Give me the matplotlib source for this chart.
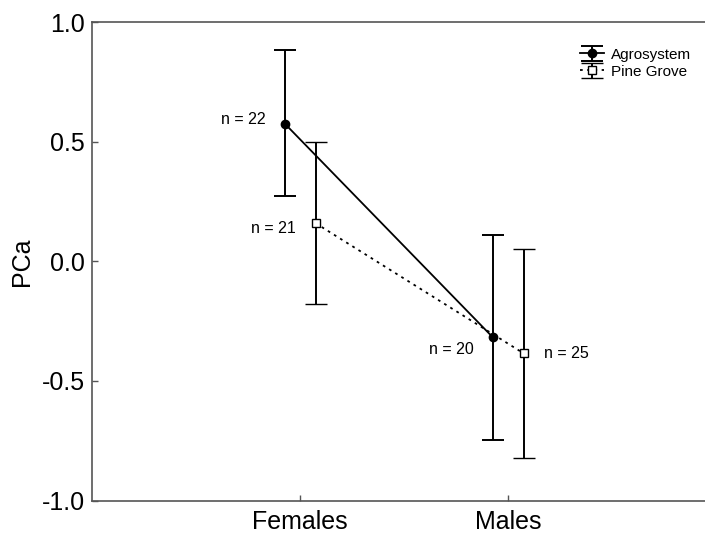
import matplotlib
matplotlib.use('Agg')
import matplotlib.pyplot as plt

# data
groups = ['Females', 'Males']
agro_mean = [0.575, -0.318]
agro_low = [0.272, -0.745]
agro_high = [0.883, 0.109]
agro_n = ['n = 22', 'n = 20']
pine_mean = [0.159, -0.385]
pine_low = [-0.180, -0.824]
pine_high = [0.498, 0.050]
pine_n = ['n = 21', 'n = 25']

plt.rcParams['font.family'] = ['Liberation Sans', 'DejaVu Sans']

fig = plt.figure(figsize=(7.05, 5.34), dpi=100)
ax = fig.add_axes([0.1305, 0.0627, 0.8695, 0.8961])

x = list(range(len(groups)))
xa = [i - 0.073 for i in x]
xp = [i + 0.075 for i in x]

err_a = [[m - lo for m, lo in zip(agro_mean, agro_low)], [hi - m for m, hi in zip(agro_mean, agro_high)]]
err_p = [[m - lo for m, lo in zip(pine_mean, pine_low)], [hi - m for m, hi in zip(pine_mean, pine_high)]]

ax.errorbar(xa, agro_mean, yerr=err_a, color='black', lw=1.3, elinewidth=1.4, capsize=8, capthick=1.4,
            marker='o', ms=6, mfc='black', mec='black', linestyle='-', label='Agrosystem')
ax.errorbar(xp, pine_mean, yerr=err_p, color='black', lw=1.3, elinewidth=1.4, capsize=8, capthick=1.4,
            marker='s', ms=5.5, mfc='white', mec='black', mew=1, linestyle=(0, (1.5, 2.5)), label='Pine Grove')

# n labels
ax.annotate(agro_n[0], (xa[0], agro_mean[0]), xytext=(-14, 3), textcoords='offset points',
            ha='right', va='center', fontsize=11.5)
ax.annotate(pine_n[0], (xp[0], pine_mean[0]), xytext=(-14, -4), textcoords='offset points',
            ha='right', va='center', fontsize=11.5)
ax.annotate(agro_n[1], (xa[1], agro_mean[1]), xytext=(-14, -9), textcoords='offset points',
            ha='right', va='center', fontsize=11.5)
ax.annotate(pine_n[1], (xp[1], pine_mean[1]), xytext=(15, 0), textcoords='offset points',
            ha='left', va='center', fontsize=11.5)

ax.set_xlim(-1, 1.947)
ax.set_ylim(-1.0, 1.0)
ax.set_xticks(x)
ax.set_xticklabels(groups, fontsize=18)
ax.set_yticks([-1.0, -0.5, 0.0, 0.5, 1.0])
ax.set_yticklabels(['-1.0', '-0.5', '0.0', '0.5', '1.0'], fontsize=18)
ax.set_ylabel('PCa', fontsize=18, labelpad=6)
ax.tick_params(direction='in', length=4, width=1, color='#555555', pad=5)
ax.tick_params(axis='x', pad=6.5)
for side in ['left', 'bottom', 'top']:
    ax.spines[side].set_color('#555555')
    ax.spines[side].set_linewidth(1.2)
ax.spines['right'].set_visible(False)

ax.legend(loc='upper right', bbox_to_anchor=(1.0, 0.975), frameon=False, fontsize=11,
          handlelength=1.6, handletextpad=0.45, labelspacing=0.2)

fig.savefig('out.png', dpi=100)
